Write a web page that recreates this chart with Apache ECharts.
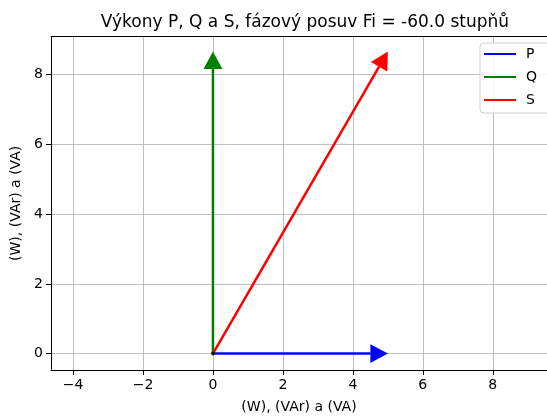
<!DOCTYPE html>
<html lang="en">
<head>
    <meta charset="UTF-8">
    <title>Vykony P, Q a S</title>
    <script src="https://cdn.jsdelivr.net/npm/echarts@6/dist/echarts.min.js"></script>
    <style>
        html, body {margin: 0; padding: 0; background: #fff;}
        #main {width: 547px; height: 419px;}
    </style>
</head>
<body>
    <div id="main"></div>
    <script>
        // arrows: start x, start y, dx, dy
        var names = ['P', 'Q', 'S'];
        var colors = ['#0000ff', '#008000', '#ff0000'];
        var arrowP = [0, 0, 5, 0];
        var arrowQ = [0, 0, 0, 8.66];
        var arrowS = [0, 0, 5, 8.66];
        var xTicks = [-4, -2, 0, 2, 4, 6, 8];
        var yTicks = [0, 2, 4, 6, 8];
        var headSize = 0.5;

        var arrows = [arrowP, arrowQ, arrowS];
        var font = 'DejaVu Sans';

        function renderArrow(params, api) {
            var x0 = api.value(0), y0 = api.value(1);
            var p0 = api.coord([x0, y0]);
            var p1 = api.coord([x0 + api.value(2), y0 + api.value(3)]);
            var len = Math.sqrt((p1[0]-p0[0])*(p1[0]-p0[0]) + (p1[1]-p0[1])*(p1[1]-p0[1]));
            var ux = (p1[0]-p0[0]) / len, uy = (p1[1]-p0[1]) / len;
            var hl = api.size([headSize, 0])[0];
            var hw = hl * 0.54;
            var bx = p1[0] - ux*hl, by = p1[1] - uy*hl;
            var color = api.visual('color');
            return {
                type: 'group',
                children: [{
                    type: 'line',
                    shape: {x1: p0[0], y1: p0[1], x2: bx, y2: by},
                    style: {stroke: color, lineWidth: 2.5}
                }, {
                    type: 'polygon',
                    shape: {points: [[p1[0], p1[1]], [bx - uy*hw, by + ux*hw], [bx + uy*hw, by - ux*hw]]},
                    style: {fill: color}
                }]
            };
        }

        function minus(v) {
            return String(v).replace('-', '\u2212');
        }

        var series = [];
        for (var i = 0; i < names.length; i++) {
            series.push({
                name: names[i],
                type: 'custom',
                renderItem: renderArrow,
                itemStyle: {color: colors[i]},
                data: [arrows[i]],
                encode: {x: [0, 2], y: [1, 3]},
                z: 3
            });
        }
        series.push({
            type: 'scatter',
            data: [[0, 0]],
            symbolSize: 4,
            itemStyle: {color: '#000'},
            z: 4
        });

        var myChart = echarts.init(document.getElementById('main'));
        var option = {
            animation: false,
            textStyle: {fontFamily: font},
            title: {
                text: 'Výkony P, Q a S, fázový posuv Fi = -60.0 stupňů',
                left: 300, top: 9, textAlign: 'center',
                textStyle: {fontFamily: font, fontSize: 17, fontWeight: 'normal', color: '#000'}
            },
            legend: {
                data: names.map(function (n) { return {name: n, icon: 'rect'}; }),
                orient: 'vertical',
                left: 480, top: 43,
                itemWidth: 32, itemHeight: 2, itemGap: 9,
                padding: [4, 30, 6, 4],
                borderColor: '#d0d0d0', borderWidth: 1, borderRadius: 4,
                backgroundColor: 'rgba(255,255,255,0.85)',
                textStyle: {fontFamily: font, fontSize: 14, color: '#000', padding: [0, 0, 0, 5]}
            },
            grid: {left: 51, right: 0, top: 36.6, bottom: 48.2, containLabel: false},
            xAxis: [{
                type: 'value',
                min: -4.63, max: 9.55,
                name: '(W), (VAr) a (VA)',
                nameLocation: 'middle', nameGap: 30,
                nameTextStyle: {fontFamily: font, fontSize: 14, color: '#000'},
                axisLine: {onZero: false, lineStyle: {color: '#000', width: 1}},
                axisTick: {show: true, length: 5, customValues: xTicks, lineStyle: {color: '#000'}},
                axisLabel: {customValues: xTicks, formatter: minus, fontSize: 14, color: '#000', margin: 8},
                splitLine: {show: true, lineStyle: {color: '#b0b0b0', width: 0.8}}
            }, {
                type: 'value',
                position: 'top',
                min: -4.63, max: 9.55,
                axisLine: {show: true, onZero: false, lineStyle: {color: '#000', width: 1}},
                axisTick: {show: false},
                axisLabel: {show: false},
                splitLine: {show: false}
            }],
            yAxis: {
                type: 'value',
                min: -0.47, max: 9.09,
                name: '(W), (VAr) a (VA)',
                nameLocation: 'middle', nameGap: 27,
                nameTextStyle: {fontFamily: font, fontSize: 14, color: '#000'},
                axisLine: {show: true, onZero: false, lineStyle: {color: '#000', width: 1}},
                axisTick: {show: true, length: 5, customValues: yTicks, lineStyle: {color: '#000'}},
                axisLabel: {customValues: yTicks, formatter: minus, fontSize: 14, color: '#000', margin: 8},
                splitLine: {show: true, lineStyle: {color: '#b0b0b0', width: 0.8}}
            },
            series: series
        };
        myChart.setOption(option);
    </script>
</body>
</html>
